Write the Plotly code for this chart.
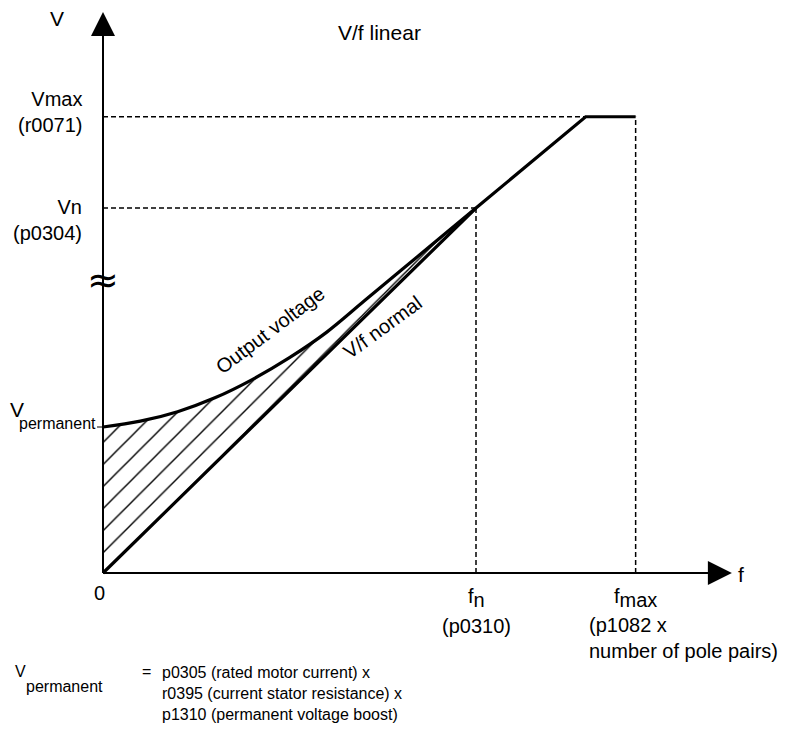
import plotly.graph_objects as go

# characteristic points (f in Hz-like units, V in % of rated voltage)
f_n = 50
f_knee = 64.7
f_max = 71.4
v_n = 100
v_max = 125
v_perm = 40

# output voltage curve (boosted)
curve_f = [0, 5, 10, 15, 20, 25, 30, 35, 40, 45, 50]
curve_v = [40, 41.6, 44.2, 48.0, 53.0, 59.0, 66.0, 74.5, 83.0, 91.5, 100]

# linear V/f characteristic
lin_f = [0, f_n, f_knee, f_max]
lin_v = [0, v_n, v_max, v_max]

# axis arrow ends
f_end = 84.3
v_end = 153.7

FONT = "Liberation Sans, Arial, sans-serif"
BLACK = "#000000"

# page offset of the plot (body margin) and scale of the drawing
OFF = 8
PX_F = 7.46
PX_V = 3.65


def px(x):
    return (x - OFF) / 792


def py(y):
    return 1 - (y - OFF) / 733


fig = go.Figure()

# axes
fig.add_trace(go.Scatter(x=[0, 0], y=[0, v_end - 5], mode="lines",
                         line=dict(color=BLACK, width=2)))
fig.add_trace(go.Scatter(x=[0, f_end - 2], y=[0, 0], mode="lines",
                         line=dict(color=BLACK, width=2)))
fig.add_trace(go.Scatter(x=[0], y=[v_end], mode="markers",
                         marker=dict(symbol="arrow-up", size=24, color=BLACK)))
fig.add_trace(go.Scatter(x=[f_end], y=[0], mode="markers",
                         marker=dict(symbol="arrow-right", size=24, color=BLACK)))
# small tick at V permanent
fig.add_trace(go.Scatter(x=[-0.8, 0], y=[v_perm, v_perm], mode="lines",
                         line=dict(color=BLACK, width=1)))

# dashed guide lines
dash = dict(color=BLACK, width=1.5, dash="5px,3px")
fig.add_trace(go.Scatter(x=[0, f_knee], y=[v_max, v_max], mode="lines", line=dash))
fig.add_trace(go.Scatter(x=[f_max, f_max], y=[0, v_max], mode="lines", line=dash))
fig.add_trace(go.Scatter(x=[0, f_n], y=[v_n, v_n], mode="lines", line=dash))
fig.add_trace(go.Scatter(x=[f_n, f_n], y=[0, v_n], mode="lines", line=dash))

# hatched area between boost curve and linear characteristic
fig.add_trace(go.Scatter(x=lin_f[:2], y=lin_v[:2], mode="lines",
                         line=dict(width=0, color=BLACK)))
fig.add_trace(go.Scatter(x=curve_f, y=curve_v, mode="lines", fill="tonexty",
                         fillcolor="rgba(0,0,0,0)",
                         fillpattern=dict(shape="/", size=15.6, solidity=0.09,
                                          fgcolor=BLACK, fgopacity=1,
                                          bgcolor="rgba(0,0,0,0)"),
                         line=dict(color=BLACK, width=3.2, shape="spline")))

# V/f normal line
fig.add_trace(go.Scatter(x=lin_f, y=lin_v, mode="lines",
                         line=dict(color=BLACK, width=3.2)))

ann = []


def label(text, x, y, size=20, xanchor="center", yanchor="middle", align="center",
          angle=0, xref="x", yref="y", family=FONT):
    ann.append(dict(text=text, x=x, y=y, xref=xref, yref=yref, showarrow=False,
                    xanchor=xanchor, yanchor=yanchor, align=align, textangle=angle,
                    font=dict(family=family, size=size, color=BLACK)))


label("V/f linear", 37.1, 148.2, size=21)
label("V", -6.2, 152, size=21)
label("f", 84.8, -0.5, size=21, xanchor="left")
label("0", -0.5, -5.5)
label("Vmax<br>(r0071)", -2.6, 126.4, xanchor="right", align="right")
label("Vn<br>(p0304)", -2.5, 96.6, xanchor="right", align="right")
label("≈", 0, 80.3, size=38, family="DejaVu Sans")
label("V", -12.7, 44.8, size=21, xanchor="left")
label("permanent", -0.7, 41.0, size=16, xanchor="right")
label("Output voltage", 22.4, 66.6, angle=-37)
label("V/f normal", 37.5, 67.4, angle=-36)
label("f<sub><span style='font-size:20px'>n</span></sub>", f_n, -6.8)
label("(p0310)", f_n, -14.5)
label("f<sub><span style='font-size:20px'>max</span></sub>", f_max, -6.8)
label("(p1082 x<br>number of pole pairs)", 64.9, -17.7, xanchor="left", align="left")

# footnote
label("V", px(13), py(671), size=16, xanchor="left", xref="paper", yref="paper")
label("permanent", px(24), py(686), size=16, xanchor="left", xref="paper", yref="paper")
label("=", px(140), py(671), size=16, xanchor="left", xref="paper", yref="paper")
label("p0305 (rated motor current) x<br>r0395 (current stator resistance) x<br>"
      "p1310 (permanent voltage boost)", px(160), py(693), size=16,
      xanchor="left", align="left", xref="paper", yref="paper")

fig.update_layout(
    width=792, height=733,
    margin=dict(l=0, r=0, t=0, b=0),
    paper_bgcolor="white", plot_bgcolor="white",
    showlegend=False,
    xaxis=dict(visible=False, range=[-(103 - OFF) / PX_F, (792 + OFF - 103) / PX_F],
               fixedrange=True),
    yaxis=dict(visible=False, range=[(573 - 733 - OFF) / PX_V, (573 - OFF) / PX_V],
               fixedrange=True),
    annotations=ann,
)

fig.write_html("out.html")
